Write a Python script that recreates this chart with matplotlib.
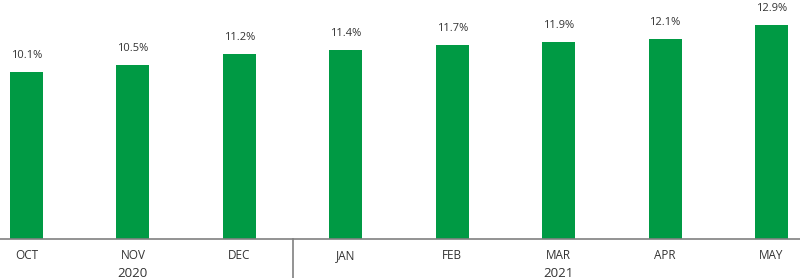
import matplotlib.pyplot as plt
import numpy as np

months = ['OCT', 'NOV', 'DEC', 'JAN', 'FEB', 'MAR', 'APR', 'MAY']
values = [10.1, 10.5, 11.2, 11.4, 11.7, 11.9, 12.1, 12.9]
years = ['2020', '2021']
year_spans = [(0, 2), (3, 7)]

plt.rcParams['font.family'] = ['Open Sans', 'DejaVu Sans']

fig = plt.figure(figsize=(8, 2.78), dpi=100)
ax = fig.add_axes([0, 0.14, 1, 0.86])

x = np.arange(len(months))
ax.bar(x, values, width=0.31, color='#009a44')
for xi, v in zip(x, values):
    ax.annotate('{:.1f}%'.format(v), (xi, v), xytext=(0, 8), textcoords='offset points',
                ha='center', va='bottom', fontsize=8, color='#333333')

ax.set_xlim(-0.249, 7.268)
ax.set_ylim(0, 14.44)
for s in ['top', 'right', 'left']:
    ax.spines[s].set_visible(False)
ax.spines['bottom'].set_color('#808080')
ax.spines['bottom'].set_linewidth(1.2)
ax.set_yticks([])
ax.set_xticks(x)
ax.set_xticklabels(months, fontsize=8.5, color='#333333')
ax.tick_params(axis='x', length=0, pad=7)

# year labels and separator
for label, (a, b) in zip(years, year_spans):
    ax.text((a + b) / 2, -0.142, label, transform=ax.get_xaxis_transform(),
            ha='center', va='center', fontsize=9.5, color='#333333')
ax.plot([2.5, 2.5], [0, -0.17], transform=ax.get_xaxis_transform(), clip_on=False,
        color='#808080', lw=1.2)

fig.savefig('out.png', dpi=100)
